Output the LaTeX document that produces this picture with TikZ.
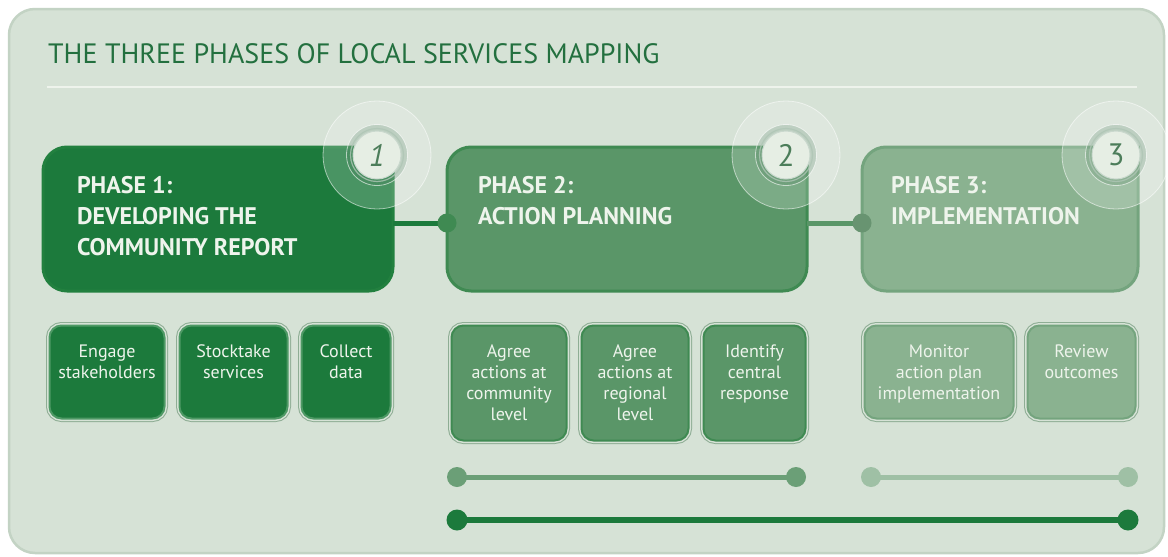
\documentclass[tikz,border=0pt]{standalone}
\usepackage{fontspec}
\setmainfont{PT Sans}
\definecolor{panelbg}{HTML}{D6E2D6}
\definecolor{panelrim}{HTML}{C3D3C4}
\definecolor{titlec}{HTML}{23703F}
\definecolor{sepc}{HTML}{EEF3EC}
\definecolor{fillA}{HTML}{1C7A3C}
\definecolor{rimA}{HTML}{22803F}
\definecolor{fillB}{HTML}{5A9668}
\definecolor{rimB}{HTML}{3F8A52}
\definecolor{fillC}{HTML}{8AB290}
\definecolor{rimC}{HTML}{74A47E}
\definecolor{outl}{HTML}{8EAD94}
\definecolor{txtc}{HTML}{EEF4EC}
\definecolor{discc}{HTML}{E6EEE4}
\definecolor{numc}{HTML}{4C7D5A}
\definecolor{barB}{HTML}{6B9F77}
\definecolor{barC}{HTML}{9FC0A5}
\pgfdeclarelayer{bgzero}
\pgfdeclarelayer{bgone}
\pgfsetlayers{bgzero,bgone,main}
\newcommand\phaseshape[3]{%
  \filldraw[fill=#2, draw=#3, line width=3, rounded corners=24, line cap=rect]
    (#1.north east) -- (#1.south east) -- (#1.south west) -- (#1.north west) -- (#1.north east);}
\begin{document}
\begin{tikzpicture}[x=1pt,y=-1pt,
  phasebox/.style={anchor=north west, inner ysep=0, outer sep=0, text=txtc,
    font=\bfseries\fontsize{24}{31}\selectfont, text height=46, text depth=98},
  subbox/.style={anchor=north west, inner ysep=0, inner xsep=0, outer sep=0,
    rounded corners=12, line width=2, text=txtc, font=\fontsize{18}{21}\selectfont,
    text height=31.5, preaction={draw=outl, line width=7}, preaction={draw=panelbg, line width=5}},
  numdisc/.style={circle, minimum size=48, inner sep=0, fill=discc, draw=white!70!numc,
    line width=1, text=numc, font=\fontsize{31}{31}\selectfont},
  halo/.style={fill=white, fill opacity=0.2, draw=white, draw opacity=0.55, line width=0.8},
  ring/.style={fill=numc, fill opacity=0.22, draw=white, draw opacity=0.6, line width=0.8},
  barline/.style={line width=5}
]
\useasboundingbox (0,0) rectangle (1168,557);
\begin{pgfonlayer}{bgzero}
\fill[white] (0,0) rectangle (1168,557);
% panel
\filldraw[fill=panelbg, draw=panelrim, line width=2.5, rounded corners=26] (9,9) rectangle (1164,553);
\end{pgfonlayer}
\draw[sepc, line width=1.5] (47,87) -- (1137,87);
\node[anchor=base west, inner sep=0, text=titlec, font=\fontsize{28}{32}\selectfont] (title) at (48,63) {THE THREE PHASES OF LOCAL SERVICES MAPPING};

% phase nodes
\node[phasebox, inner xsep=34] (p1) at (43,147) {\parbox[t]{282pt}{\raggedright PHASE 1:\\DEVELOPING THE\\COMMUNITY REPORT}};
\node[phasebox, inner xsep=31] (p2) at (447,147) {\parbox[t]{298pt}{\raggedright PHASE 2:\\ACTION PLANNING}};
\node[phasebox, inner xsep=29] (p3) at (862,147) {\parbox[t]{218pt}{\raggedright PHASE 3:\\IMPLEMENTATION}};
\begin{pgfonlayer}{bgone}
\phaseshape{p1}{fillA}{rimA}
\phaseshape{p2}{fillB}{rimB}
\phaseshape{p3}{fillC}{rimC}
\end{pgfonlayer}

% connectors between phases
\draw[fillA, line width=5] ([yshift=-4pt]p1.east) -- ([yshift=-4pt]p2.west);
\fill[rimB] ([yshift=-4pt]p2.west) circle (9.5);
\draw[fillB, line width=5] ([yshift=-4pt]p2.east) -- ([yshift=-4pt]p3.west);
\fill[rimC!90!black] ([yshift=-4pt]p3.west) circle (9.5);

% number badges
\foreach \cx in {377,786,1116}{
  \filldraw[halo] (\cx,155) circle (54);
  \filldraw[ring] (\cx,155) circle (30.5);
  \draw[white!55!numc, line width=1.2, opacity=0.8] (\cx,155) circle (26.5);
}
\node[numdisc] (n1) at (377,155) {\itshape 1};
\node[numdisc] (n2) at (786,155) {2};
\node[numdisc] (n3) at (1116,155) {3};

% sub boxes phase 1
\node[subbox, fill=fillA, draw=rimA!80!white, minimum width=115, text depth=61.5] (s11) at (49.5,325.5) {\parbox[t]{115pt}{\centering Engage\\stakeholders}};
\node[subbox, fill=fillA, draw=rimA!80!white, minimum width=108, text depth=61.5] (s12) at (179.5,325.5) {\parbox[t]{108pt}{\centering Stocktake\\services}};
\node[subbox, fill=fillA, draw=rimA!80!white, minimum width=89, text depth=61.5] (s13) at (301.5,325.5) {\parbox[t]{89pt}{\centering Collect\\data}};
% sub boxes phase 2
\node[subbox, fill=fillB, draw=rimB, minimum width=115, text depth=83.5] (s21) at (451.5,325.5) {\parbox[t]{115pt}{\centering Agree\\actions at\\community\\level}};
\node[subbox, fill=fillB, draw=rimB, minimum width=107, text depth=83.5] (s22) at (581.5,325.5) {\parbox[t]{107pt}{\centering Agree\\actions at\\regional\\level}};
\node[subbox, fill=fillB, draw=rimB, minimum width=102, text depth=83.5] (s23) at (703.5,325.5) {\parbox[t]{102pt}{\centering Identify\\central\\response}};
% sub boxes phase 3
\node[subbox, fill=fillC, draw=rimC, minimum width=149, text depth=61.5] (s31) at (864.5,325.5) {\parbox[t]{149pt}{\centering Monitor\\action plan\\implementation}};
\node[subbox, fill=fillC, draw=rimC, minimum width=108, text depth=61.5] (s32) at (1027.5,325.5) {\parbox[t]{108pt}{\centering Review\\outcomes}};

% timeline bars
\coordinate (b2l) at (457,477);
\coordinate (b2r) at (796,477);
\coordinate (b3l) at (871,477);
\coordinate (b3r) at (1128,477);
\coordinate (bal) at (457,520);
\coordinate (bar) at (1128,520);
\draw[barB, barline] (b2l) -- (b2r);
\fill[barB] (b2l) circle (10) (b2r) circle (10);
\draw[barC, barline] (b3l) -- (b3r);
\fill[barC] (b3l) circle (10) (b3r) circle (10);
\draw[fillA, line width=6] (bal) -- (bar);
\fill[fillA] (bal) circle (10.5) (bar) circle (10.5);
\end{tikzpicture}
\end{document}
